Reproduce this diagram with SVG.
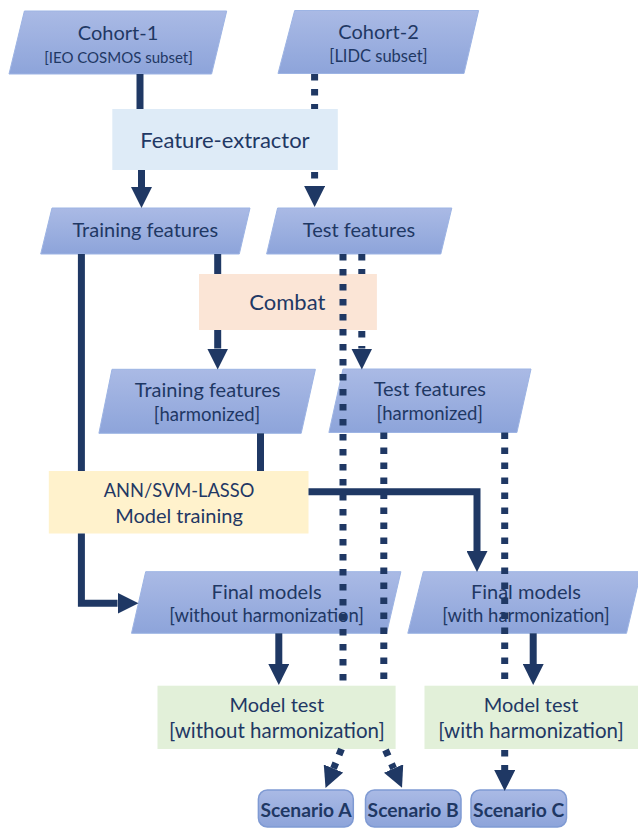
<svg xmlns="http://www.w3.org/2000/svg" width="638" height="828" viewBox="0 0 638 828">
<defs>
<linearGradient id="blueGrad" x1="0" y1="0" x2="0" y2="1">
<stop offset="0" stop-color="#AABAE5"/>
<stop offset="1" stop-color="#8DA4DA"/>
</linearGradient>
<marker id="head" viewBox="0 0 3 3" refX="0" refY="1.5" markerWidth="3" markerHeight="3" orient="auto" markerUnits="strokeWidth">
<path d="M0,0 L3,1.5 L0,3 z" fill="#1F3864"/>
</marker>
<style>
.para{fill:url(#blueGrad);stroke:#9DB4E4;stroke-width:1}
.scen{fill:url(#blueGrad);stroke:#7F9AD3;stroke-width:1.5}
.t{font-family:Lato,"Liberation Sans",sans-serif;fill:#1F3864;text-anchor:middle}
.big{font-size:20px}
.sub{font-size:15px}
.mid{font-size:18.5px}
.bold{font-family:Lato,"Liberation Sans",sans-serif;font-weight:bold;font-size:19.3px;fill:#1F3864;text-anchor:middle}
.solid{fill:none;stroke:#1F3864;stroke-width:7;stroke-linejoin:miter}
.dot{fill:none;stroke:#1F3864;stroke-width:7;stroke-dasharray:6.5 8.5}
</style>
</defs>

<g id="cohort1">
<polygon class="para" points="24.4,11 226.7,11 211.6,74 9,74"/>
<text class="t big" x="118" y="40">Cohort-1</text>
<text class="t sub" x="118.5" y="63">[IEO COSMOS subset]</text>
</g>
<g id="cohort2">
<polygon class="para" points="294.7,10.5 478.6,10.5 464,73.5 278,73.5"/>
<text class="t big" x="378.5" y="39">Cohort-2</text>
<text class="t" style="font-size:16.5px" x="378.5" y="62">[LIDC subset]</text>
</g>
<g id="feature-extractor">
<rect x="112.3" y="109" width="225.5" height="61" fill="#DEEBF7"/>
<text class="t" style="font-size:22px" x="225" y="147.5">Feature-extractor</text>
</g>
<g id="training-features">
<polygon class="para" points="52,208 250,208 239.3,254 40.7,254"/>
<text class="t big" x="145.3" y="237">Training features</text>
</g>
<g id="test-features">
<polygon class="para" points="277.6,208 451.8,208 440.8,254 266.6,254"/>
<text class="t big" x="359" y="237">Test features</text>
</g>
<g id="combat">
<rect x="199" y="274" width="177.9" height="56" fill="#FBE5D6"/>
<text class="t" style="font-size:22px" x="287.3" y="310">Combat</text>
</g>
<g id="training-harmonized">
<polygon class="para" points="112,369.3 315.4,369.3 301.2,433.3 98.9,433.3"/>
<text class="t big" x="207.6" y="396.5">Training features</text>
<text class="t mid" x="207" y="421">[harmonized]</text>
</g>
<g id="test-harmonized">
<polygon class="para" points="343,369 531,369 516.9,432.5 328.9,432.5"/>
<text class="t big" x="429.8" y="396">Test features</text>
<text class="t mid" x="429.8" y="420">[harmonized]</text>
</g>
<g id="ann-training">
<rect x="48.8" y="471" width="259.7" height="62.5" fill="#FFF2CC"/>
<text class="t" style="font-size:18.3px" x="179" y="496.5">ANN/SVM-LASSO</text>
<text class="t big" x="179" y="523.3">Model training</text>
</g>
<g id="final-without">
<polygon class="para" points="145.7,571.7 400.9,571.7 386.6,633.3 131.5,633.3"/>
<text class="t big" x="266.6" y="599.3">Final models</text>
<text class="t mid" x="266.6" y="622">[without harmonization]</text>
</g>
<g id="final-with">
<polygon class="para" points="423.3,571.7 641,571.7 626.5,633.3 407.8,633.3"/>
<text class="t big" x="525.9" y="599.3">Final models</text>
<text class="t mid" x="525.9" y="622">[with harmonization]</text>
</g>
<g id="model-test-without">
<rect x="157.5" y="685.7" width="238.1" height="63.3" fill="#E2F0D9"/>
<text class="t big" x="276.8" y="711.7">Model test</text>
<text class="t" style="font-size:20.5px" x="276.8" y="738.3">[without harmonization]</text>
</g>
<g id="model-test-with">
<rect x="424.5" y="685.7" width="214" height="63.3" fill="#E2F0D9"/>
<text class="t big" x="531" y="711.7">Model test</text>
<text class="t" style="font-size:20.5px" x="531" y="738.3">[with harmonization]</text>
</g>
<g id="scenario-a">
<rect class="scen" x="258.4" y="790" width="94.9" height="37" rx="9"/>
<text class="bold" x="306" y="816.5">Scenario A</text>
</g>
<g id="scenario-b">
<rect class="scen" x="365.5" y="790" width="95.5" height="37" rx="9"/>
<text class="bold" x="413.2" y="816.5">Scenario B</text>
</g>
<g id="scenario-c">
<rect class="scen" x="471" y="790" width="95.5" height="37" rx="9"/>
<text class="bold" x="518.7" y="816.5">Scenario C</text>
</g>

<g id="connectors">
<path class="solid" d="M140,74 V109"/>
<path class="solid" d="M141.5,170 V187" marker-end="url(#head)"/>
<path class="solid" d="M217.7,254 V274"/>
<path class="solid" d="M217.7,330 V348.5" marker-end="url(#head)"/>
<path class="solid" d="M81.4,254 V471"/>
<path class="solid" d="M81.4,533.5 V603.3 H117.5" marker-end="url(#head)"/>
<path class="solid" d="M260.5,433.3 V471"/>
<path class="solid" d="M308.5,491.7 H477 V551" marker-end="url(#head)"/>
<path class="solid" d="M278.8,633.3 V664" marker-end="url(#head)"/>
<path class="solid" d="M533.2,633.3 V664" marker-end="url(#head)"/>
<path class="dot" d="M314.6,74 V109"/>
<path class="dot" d="M314.6,172 V186" marker-end="url(#head)"/>
<path class="dot" d="M361.8,254 V274"/>
<path class="dot" d="M361.8,331 V348.5" marker-end="url(#head)"/>
<path class="dot" d="M343,254 V685.7"/>
<path class="dot" d="M341.5,749 L333.5,768.5" marker-end="url(#head)"/>
<path class="dot" d="M383.8,432.5 V685.7"/>
<path class="dot" d="M385.5,750 L393.6,768.5" marker-end="url(#head)"/>
<path class="dot" d="M504.7,432.5 V685.7"/>
<path class="dot" d="M504.7,750 V770" marker-end="url(#head)"/>
</g>
</svg>
